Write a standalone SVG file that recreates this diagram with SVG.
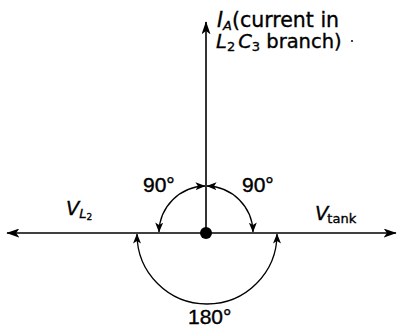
<svg xmlns="http://www.w3.org/2000/svg" width="398" height="328" viewBox="0 0 398 328">
<style>
.t{font-family:"DejaVu Sans","Liberation Sans",sans-serif;font-size:19.5px;fill:#000;stroke:#000;stroke-width:0.35}
.n{font-family:"Liberation Sans",Arial,sans-serif;font-size:21px;fill:#000;stroke:#000;stroke-width:0.4}
.i{font-style:italic}
.s{font-size:13px}
.ln{stroke:#000;stroke-width:1.6;fill:none}
.arc{stroke:#000;stroke-width:1.3;fill:none}
</style>
<defs>
<marker id="ah" viewBox="0 0 10 10" refX="9.5" refY="5" markerWidth="10" markerHeight="8" markerUnits="userSpaceOnUse" orient="auto-start-reverse" preserveAspectRatio="none">
<path d="M0,0 L10,5 L0,10 L2.5,5 Z" fill="#000"/>
</marker>
<marker id="big" viewBox="0 0 10 10" refX="9.5" refY="5" markerWidth="13" markerHeight="9" markerUnits="userSpaceOnUse" orient="auto" preserveAspectRatio="none">
<path d="M0,0 L10,5 L0,10 L2.5,5 Z" fill="#000"/>
</marker>
</defs>
<g id="connectors">
<line class="ln" x1="206" y1="233" x2="7" y2="233" marker-end="url(#big)"/>
<line class="ln" x1="206" y1="233" x2="396" y2="233" marker-end="url(#big)"/>
<line class="ln" x1="206" y1="233" x2="206" y2="22" marker-end="url(#big)"/>
<path class="arc" d="M159,232 A47,47 0 0 1 205,186" marker-start="url(#ah)" marker-end="url(#ah)"/>
<path class="arc" d="M207,186 A47,47 0 0 1 253,232" marker-start="url(#ah)" marker-end="url(#ah)"/>
<path class="arc" d="M137,234 A70,70 0 0 0 277,234" marker-start="url(#ah)" marker-end="url(#ah)"/>
</g>
<g id="origin"><circle cx="206" cy="233" r="6" fill="#000"/></g>
<g id="IA">
<text class="t" x="217" y="27" style="font-size:20.5px"><tspan class="i">I</tspan><tspan class="i s" dy="3">A</tspan><tspan dy="-3">(current in</tspan></text>
<text class="t" x="216" y="48"><tspan class="i">L</tspan><tspan class="s" dy="3">2</tspan><tspan class="i" dy="-3" dx="3">C</tspan><tspan class="s" dy="3">3</tspan><tspan dy="-3"> branch)</tspan></text>
<circle cx="352" cy="41" r="1" fill="#000"/>
</g>
<g id="VL2"><text class="t" x="66" y="215"><tspan class="i">V</tspan><tspan class="i s" dy="3">L</tspan><tspan style="font-size:9px" dy="2">2</tspan></text></g>
<g id="Vtank"><text class="t" x="315" y="220"><tspan class="i">V</tspan><tspan class="s" dy="3" dx="-1">tank</tspan></text></g>
<g id="a90l"><text class="n" x="143" y="192">90°</text></g>
<g id="a90r"><text class="n" x="242" y="192">90°</text></g>
<g id="a180"><text class="n" x="188" y="324">180°</text></g>
</svg>
